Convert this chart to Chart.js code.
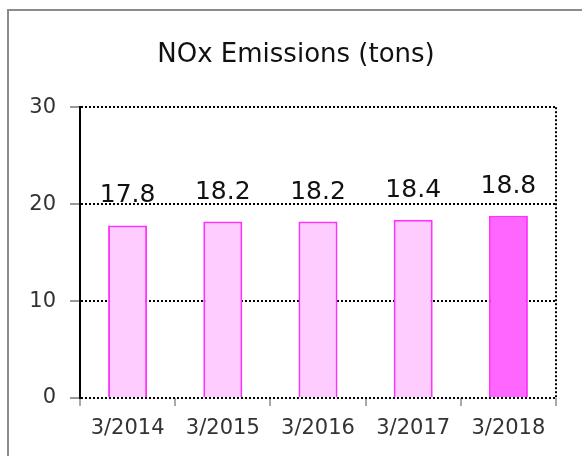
<!DOCTYPE html>
<html lang="en">
<head>
    <meta charset="UTF-8">
    <title>NOx Emissions</title>
    <script src="https://cdn.jsdelivr.net/npm/chart.js"></script>
    <style>
        body { margin: 0; background: #fff; }
        #frame { position: absolute; left: 7px; top: 9px; width: 620px; height: 500px;
                 border-left: 2px solid #8c8c8c; border-top: 2px solid #8c8c8c; }
        #nox-chart { position: absolute; left: 0; top: 0; }
    </style>
</head>
<body>
    <div id="frame"></div>
    <canvas id="nox-chart" width="582" height="456"></canvas>

    <script>
        // values
        const categories = ['3/2014', '3/2015', '3/2016', '3/2017', '3/2018'];
        const emissions = [17.8, 18.2, 18.2, 18.4, 18.8];
        const barFills = ['#FFCCFF', '#FFCCFF', '#FFCCFF', '#FFCCFF', '#FF66FF'];
        const yMax = 30;
        const yStep = 10;

        const FONT = '"DejaVu Sans", Verdana, sans-serif';

        // value labels above each bar
        const valueLabels = {
            id: 'valueLabels',
            afterLayout(chart) {
                // title sits a bit right of the canvas centre in the original
                chart.titleBlock.left += 18;
                chart.titleBlock.right += 18;
            },
            afterDatasetsDraw(chart) {
                const ctx = chart.ctx;
                const meta = chart.getDatasetMeta(0);
                ctx.save();
                ctx.font = '25px ' + FONT;
                ctx.fillStyle = '#111';
                ctx.textAlign = 'center';
                ctx.textBaseline = 'alphabetic';
                meta.data.forEach((bar, i) => {
                    ctx.fillText(emissions[i].toFixed(1), bar.x, bar.y - 23);
                });
                ctx.restore();
            }
        };

        new Chart(document.getElementById('nox-chart'), {
            type: 'bar',
            data: {
                labels: categories,
                datasets: [{
                    data: emissions,
                    backgroundColor: barFills,
                    borderColor: '#FF33FF',
                    borderWidth: 2,
                    categoryPercentage: 1,
                    barPercentage: 0.41
                }]
            },
            plugins: [valueLabels],
            options: {
                responsive: false,
                animation: false,
                layout: { padding: { left: 0, right: 26, top: 0, bottom: 0 } },
                plugins: {
                    legend: { display: false },
                    tooltip: { enabled: false },
                    title: {
                        display: true,
                        text: 'NOx Emissions (tons)',
                        color: '#111',
                        font: { family: FONT, size: 26, weight: 'normal' },
                        padding: { top: 40, bottom: 36 }
                    }
                },
                scales: {
                    x: {
                        afterFit: s => { s.height = 58; },
                        border: { display: false, dash: [2, 2] },
                        grid: {
                            offset: true,
                            color: c => c.index === undefined ? '#000' : 'rgba(0,0,0,0)',
                            lineWidth: 2,
                            tickColor: '#555',
                            tickWidth: 1,
                            tickLength: 8
                        },
                        ticks: {
                            color: '#333',
                            padding: 10,
                            font: { family: FONT, size: 21 }
                        }
                    },
                    y: {
                        min: 0,
                        max: yMax,
                        afterFit: s => { s.width = 80; },
                        border: { display: true, color: '#000', width: 2, dash: [2, 2] },
                        grid: {
                            color: '#000',
                            lineWidth: 2,
                            tickColor: '#333',
                            tickWidth: 1,
                            tickLength: 10
                        },
                        ticks: {
                            stepSize: yStep,
                            color: '#333',
                            padding: 14,
                            font: { family: FONT, size: 21 }
                        }
                    }
                }
            }
        });
    </script>
</body>
</html>
